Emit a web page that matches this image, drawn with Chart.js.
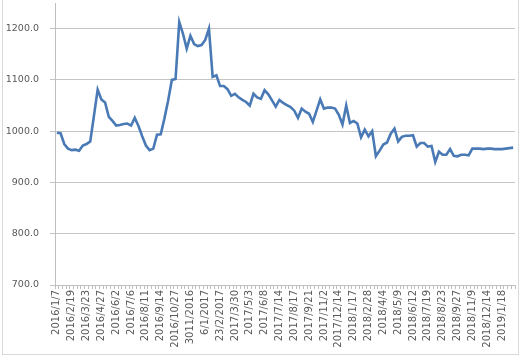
<!DOCTYPE html>
<html>
<head>
<meta charset="utf-8">
<script src="https://cdn.jsdelivr.net/npm/chart.js@4.4.1/dist/chart.umd.min.js"></script>
<style>
  html, body { margin: 0; padding: 0; background: #ffffff; }
  canvas { display: block; }
</style>
</head>
<body>
<canvas id="c" width="521" height="359"></canvas>
<script>
// Tick labels shown on the x axis (one every 4 categories)
const tickLabels = [
  '2016/1/7', '2016/2/19', '2016/3/23', '2016/4/27', '2016/6/2', '2016/7/6',
  '2016/8/11', '2016/9/14', '2016/10/27', '3011/2016', '6/1/2017', '23/2/2017',
  '2017/3/30', '2017/5/3', '2017/6/8', '2017/7/14', '2017/8/17', '2017/9/21',
  '2017/11/2', '2017/12/14', '2018/1/17', '2018/2/28', '2018/4/4', '2018/5/9',
  '2018/6/12', '2018/7/19', '2018/8/23', '2018/9/27', '2018/11/9', '2018/12/14',
  '2019/1/18'
];
const labelEvery = 4;

// Series values (124 points)
const values = [
  997, 996, 975, 966, 963, 964, 962, 972, 975, 980,
  1030, 1081, 1062, 1056, 1028, 1020, 1011, 1012, 1014, 1015,
  1011, 1026, 1010, 990, 972, 963, 966, 993, 994, 1025,
  1060, 1100, 1102, 1213, 1190, 1161, 1186, 1170, 1166, 1168,
  1178, 1200, 1106, 1109, 1088, 1088, 1082, 1069, 1073, 1066,
  1061, 1057, 1050, 1073, 1066, 1063, 1080, 1072, 1060, 1048,
  1061, 1055, 1051, 1047, 1040, 1026, 1044, 1038, 1034, 1018,
  1040, 1062, 1044, 1046, 1046, 1044, 1032, 1013, 1050, 1016,
  1020, 1015, 988, 1003, 990, 1000, 951, 962, 974, 978,
  995, 1005, 980, 989, 991, 991, 992, 970, 977, 977,
  970, 971, 940, 960, 954, 954, 965, 952, 951, 954,
  954, 953, 966, 966, 966, 965, 966, 966, 965, 965,
  965, 966, 967, 968
];

const yTicks = [700, 800, 900, 1000, 1100, 1200];

const categories = values.map((v, i) =>
  (i % labelEvery === 0 && tickLabels[i / labelEvery] !== undefined) ? tickLabels[i / labelEvery] : '');

const framePlugin = {
  id: 'frame',
  afterDraw(chart) {
    const ctx = chart.ctx;
    ctx.save();
    ctx.strokeStyle = '#d9d9d9';
    ctx.lineWidth = 1;
    ctx.strokeRect(2.5, -2.5, 516, 357);
    ctx.restore();
  }
};

new Chart(document.getElementById('c'), {
  type: 'line',
  data: {
    labels: categories,
    datasets: [{
      data: values,
      borderColor: '#4a7ab5',
      borderWidth: 2.6,
      pointRadius: 0,
      pointHoverRadius: 0,
      tension: 0,
      fill: false
    }]
  },
  options: {
    responsive: false,
    animation: false,
    devicePixelRatio: 1,
    layout: { padding: { left: 0, right: 6, top: 3, bottom: 0 } },
    plugins: { legend: { display: false }, tooltip: { enabled: false } },
    scales: {
      x: {
        offset: true,
        afterFit: (s) => { s.height = 74; s.paddingLeft = 0; s.paddingRight = 0; },
        grid: { offset: true, drawOnChartArea: false, drawTicks: true, tickLength: 4, color: '#bfbfbf' },
        border: { display: true, color: '#bfbfbf' },
        ticks: {
          autoSkip: false,
          maxRotation: 90,
          minRotation: 90,
          padding: 1,
          color: '#595959',
          font: { family: 'DejaVu Sans', size: 10 }
        }
      },
      y: {
        min: yTicks[0],
        max: 1250,
        afterFit: (s) => { s.width = 55; s.paddingTop = 0; s.paddingBottom = 0; },
        afterBuildTicks: (s) => { s.ticks = yTicks.map(v => ({ value: v })); },
        grid: { color: '#c4c4c4', tickLength: 5, drawTicks: true },
        border: { display: true, color: '#bfbfbf' },
        ticks: {
          padding: 11,
          color: '#595959',
          font: { family: 'DejaVu Sans', size: 9.5 },
          callback: (v) => Number(v).toFixed(1)
        }
      }
    }
  },
  plugins: [framePlugin]
});
</script>
</body>
</html>
